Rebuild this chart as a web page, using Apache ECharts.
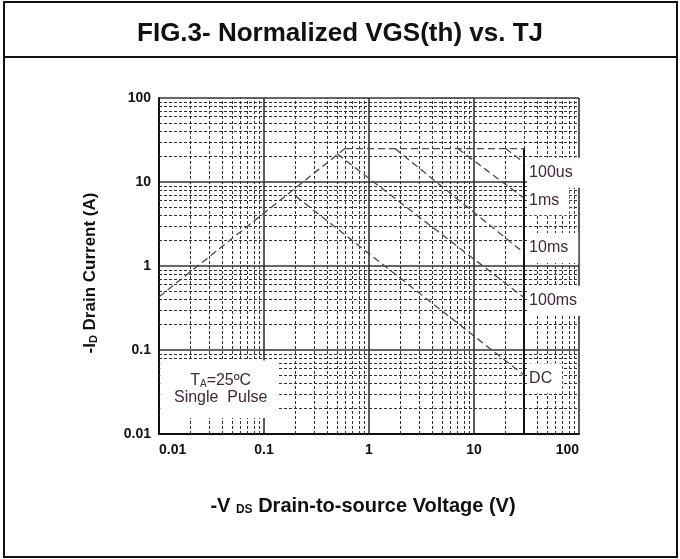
<!DOCTYPE html>
<html>
<head>
<meta charset="utf-8">
<script src="https://cdn.jsdelivr.net/npm/echarts@6/dist/echarts.min.js"></script>
<style>
  html, body { margin: 0; padding: 0; background: #fff; }
  #chart { width: 680px; height: 559px; }
</style>
</head>
<body>
<div id="chart"></div>
<script>
// Safe operating area
const rdsLimit = [[0.01, 0.43], [0.59, 25]];
const currentLimit = [[0.59, 25], [30, 25]];
const pulse100us = [[20, 25], [30, 17]];
const pulse1ms = [[7.0, 25], [30, 6.4]];
const pulse10ms = [[1.77, 25], [30, 1.43]];
const pulse100ms = [[0.5, 21.5], [30, 0.42]];
const dcLine = [[0.2, 6.8], [30, 0.05]];
const bvLimit = 30;

const decades = [0.01, 0.1, 1, 10];
const minorSteps = [2, 3, 4, 5, 6, 7, 8, 9];

// corners of the test-condition note (data coords)
const noteBox = [[0.0103, 0.075], [0.133, 0.0155]];

const font = 'Liberation Sans, Arial, sans-serif';
const labelColor = '#43283a';

// minor grid positions 2..9 in each decade
let minorVals = [];
decades.forEach(d => {
  minorSteps.forEach(m => {
    minorVals.push(+(d * m).toPrecision(3));
  });
});

const chart = echarts.init(document.getElementById('chart'));

function sweep(name, data, offset) {
  return {
    name: name,
    type: 'line',
    data: data,
    symbol: 'none',
    silent: true,
    z: 5,
    lineStyle: { color: '#4a4a4a', width: 1.3, type: [7, 4] },
    endLabel: {
      show: offset !== null,
      formatter: name,
      distance: 3,
      offset: offset || [0, 0],
      color: labelColor,
      fontFamily: font,
      fontSize: 16,
      backgroundColor: '#fff',
      padding: [7, 10, 7, 2]
    }
  };
}

const frame = [
  {
    type: 'rect',
    shape: { x: 4, y: 2, width: 673, height: 555 },
    style: { fill: 'none', stroke: '#111', lineWidth: 2 },
    silent: true
  },
  {
    type: 'line',
    shape: { x1: 4, y1: 57, x2: 677, y2: 57 },
    style: { stroke: '#111', lineWidth: 2 },
    silent: true
  }
];

const option = {
  animation: false,
  title: {
    text: 'FIG.3- Normalized VGS(th) vs. TJ',
    left: 'center',
    top: 16,
    textStyle: { fontFamily: font, fontSize: 26, fontWeight: 'bold', color: '#111' }
  },
  graphic: frame,
  grid: { left: 159, top: 98, width: 420, height: 336 },
  xAxis: {
    type: 'log',
    logBase: 10,
    min: 0.01,
    max: 100,
    name: '{a|-V }{b|DS}{a| Drain-to-source Voltage (V)}',
    nameLocation: 'middle',
    nameGap: 62,
    nameTextStyle: {
      padding: [0, 12, 0, 0],
      rich: {
        a: { fontFamily: font, fontSize: 20, fontWeight: 'bold', color: '#111' },
        b: { fontFamily: font, fontSize: 12, fontWeight: 'bold', color: '#111', padding: [8, 0, 0, 0] }
      }
    },
    axisLine: { lineStyle: { color: '#111', width: 2 } },
    axisTick: { show: false },
    axisLabel: {
      fontFamily: font, fontSize: 14, fontWeight: 'bold', color: '#111', margin: 9,
      alignMinLabel: 'left', alignMaxLabel: 'right',
      formatter: v => String(v)
    },
    splitLine: { show: true, lineStyle: { color: '#333', width: 1.6 } }
  },
  yAxis: {
    type: 'log',
    logBase: 10,
    min: 0.01,
    max: 100,
    name: '{a|-I}{b|D}{a| Drain Current (A)}',
    nameLocation: 'middle',
    nameGap: 60,
    nameRotate: 90,
    nameTextStyle: {
      padding: [0, 14, 0, 0],
      rich: {
        a: { fontFamily: font, fontSize: 17, fontWeight: 'bold', color: '#111' },
        b: { fontFamily: font, fontSize: 11, fontWeight: 'bold', color: '#111', padding: [7, 0, 0, 0] }
      }
    },
    axisLine: { lineStyle: { color: '#111', width: 2 } },
    axisTick: { show: false },
    axisLabel: {
      fontFamily: font, fontSize: 14, fontWeight: 'bold', color: '#111', margin: 8,
      formatter: v => String(v)
    },
    splitLine: { show: true, lineStyle: { color: '#333', width: 1.6 } }
  },
  series: [
    {
      // minor grid
      name: 'grid',
      type: 'line',
      data: [],
      silent: true,
      z: 1,
      markLine: {
        z: 1,
        symbol: 'none',
        silent: true,
        animation: false,
        label: { show: false },
        lineStyle: { color: '#333', width: 1, type: [3, 2] },
        data: minorVals.map(v => ({ xAxis: v })).concat(minorVals.map(v => ({ yAxis: v })))
      }
    },
    {
      name: 'Rds',
      type: 'line',
      data: rdsLimit,
      symbol: 'none',
      silent: true,
      z: 5,
      lineStyle: { color: '#4a4a4a', width: 1.3, type: [7, 4] }
    },
    {
      name: 'Id',
      type: 'line',
      data: currentLimit,
      symbol: 'none',
      silent: true,
      z: 5,
      lineStyle: { color: '#4a4a4a', width: 1.3, type: [7, 4] },
      markLine: {
        symbol: 'none',
        silent: true,
        label: { show: false },
        lineStyle: { color: '#111', width: 2, type: 'solid' },
        data: [[{ coord: [bvLimit, 25] }, { coord: [bvLimit, 0.01] }]]
      }
    },
    sweep('100us', pulse100us, [0, 10]),
    sweep('1ms', pulse1ms, [0, 2]),
    sweep('10ms', pulse10ms, [0, -5]),
    sweep('100ms', pulse100ms, [0, 3]),
    sweep('DC', dcLine, [0, 3])
  ]
};

chart.setOption(option);

// white note box placed through the axes' own scales
const p1 = chart.convertToPixel({ gridIndex: 0 }, noteBox[0]);
const p2 = chart.convertToPixel({ gridIndex: 0 }, noteBox[1]);
chart.setOption({
  graphic: frame.concat([
    {
      type: 'rect',
      z: 3,
      silent: true,
      shape: { x: p1[0], y: p1[1], width: p2[0] - p1[0], height: p2[1] - p1[1] },
      style: { fill: '#fff' }
    },
    {
      type: 'text',
      z: 4,
      silent: true,
      x: (p1[0] + p2[0]) / 2 + 2,
      y: (p1[1] + p2[1]) / 2,
      style: {
        text: '{t|T}{s|A}{t|=25ºC}\n{t|Single  Pulse}',
        align: 'center',
        verticalAlign: 'middle',
        rich: {
          t: { fontFamily: font, fontSize: 16, fill: labelColor, lineHeight: 17 },
          s: { fontFamily: font, fontSize: 10, fill: labelColor, padding: [7, 0, 0, 0] }
        }
      }
    }
  ])
});
</script>
</body>
</html>
